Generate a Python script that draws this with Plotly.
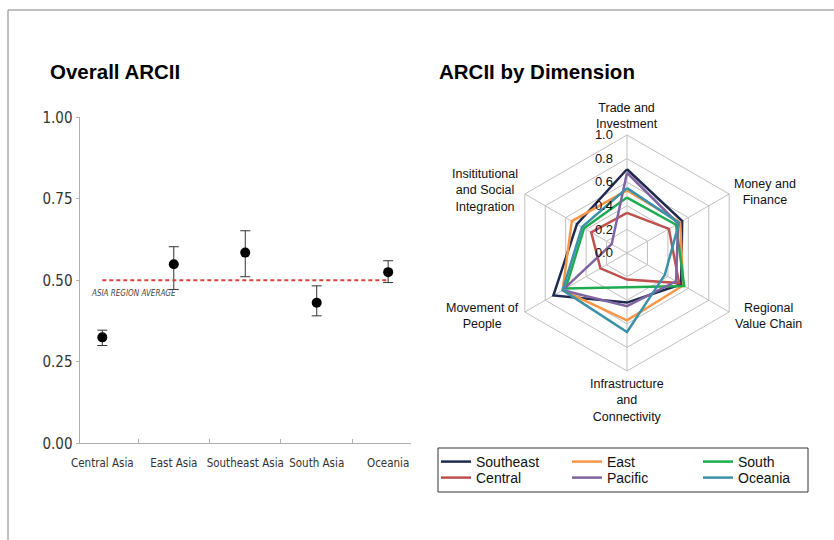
import plotly.graph_objects as go

W, H = 834, 540

# ---------------- Left chart data ----------------
regions = ["Central Asia", "East Asia", "Southeast Asia", "South Asia", "Oceania"]
arcii = [0.325, 0.549, 0.585, 0.431, 0.525]
err_plus = [0.022, 0.054, 0.067, 0.052, 0.035]
err_minus = [0.025, 0.077, 0.074, 0.040, 0.032]
asia_avg = 0.50
y_ticks = [0.0, 0.25, 0.5, 0.75, 1.0]
y_ticktext = ["0.00", "0.25", "0.50", "0.75", "1.00"]

# ---------------- Radar data ----------------
dimensions = ["Trade and Investment", "Money and Finance", "Regional Value Chain",
              "Infrastructure and Connectivity", "Movement of People",
              "Insititutional and Social Integration"]
dim_labels = ["Trade and<br>Investment", "Money and<br>Finance", "Regional<br>Value Chain",
              "Infrastructure<br>and<br>Connectivity", "Movement of<br>People",
              "Insititutional<br>and Social<br>Integration"]
series_names = ["Southeast", "East", "South", "Central", "Pacific", "Oceania"]
southeast = [0.71, 0.54, 0.53, 0.42, 0.72, 0.49]
east = [0.53, 0.52, 0.55, 0.57, 0.63, 0.54]
south = [0.47, 0.48, 0.56, 0.29, 0.60, 0.42]
central = [0.34, 0.41, 0.51, 0.225, 0.26, 0.35]
pacific = [0.68, 0.50, 0.48, 0.45, 0.63, 0.15]
oceania = [0.55, 0.51, 0.37, 0.67, 0.63, 0.44]
series_values = [southeast, east, south, central, pacific, oceania]
series_colors = ["#1f2a4e", "#f79646", "#1eaa4e", "#c0504d", "#8064a2", "#3b92a8"]
series_legend = ["legend", "legend", "legend", "legend2", "legend2", "legend2"]
r_ticks = [0.0, 0.2, 0.4, 0.6, 0.8, 1.0]
r_ticktext = ["0.0", "0.2", "0.4", "0.6", "0.8", "1.0"]


def px(x):
    return x / W


def py(y):
    return 1 - y / H


fig = go.Figure()

# Left chart: points with error bars
fig.add_trace(go.Scatter(
    x=regions, y=arcii, mode="markers",
    marker=dict(color="black", size=10),
    error_y=dict(type="data", symmetric=False, array=err_plus, arrayminus=err_minus,
                 color="#333333", thickness=1, width=5),
    showlegend=False, xaxis="x", yaxis="y"))

# Asia region average line
fig.add_trace(go.Scatter(
    x=regions, y=[asia_avg] * len(regions), mode="lines",
    line=dict(color="#d9413e", width=2, dash="4px,3px"),
    showlegend=False, xaxis="x", yaxis="y"))

# Radar traces
for name, vals, col, lg in zip(series_names, series_values, series_colors, series_legend):
    fig.add_trace(go.Scatterpolar(
        r=vals + [vals[0]], theta=dimensions + [dimensions[0]],
        mode="lines", name=name, line=dict(color=col, width=2.5),
        subplot="polar", legend=lg))

narrow = "Liberation Sans Narrow, Arial Narrow, DejaVu Sans Condensed, Liberation Sans, Arial"

legend_common = dict(orientation="h", xanchor="left", yanchor="middle",
                     bgcolor="rgba(0,0,0,0)", borderwidth=0,
                     entrywidth=86, entrywidthmode="pixels",
                     font=dict(size=14, color="#111111"), itemwidth=30)

fig.update_layout(
    width=W, height=H,
    margin=dict(l=0, r=0, t=0, b=0, autoexpand=False),
    paper_bgcolor="white", plot_bgcolor="white",
    font=dict(family="Liberation Sans, Arial", color="#111111"),
    xaxis=dict(domain=[px(79.5), px(411)], type="category", automargin=False,
               showline=True, linecolor="#b0b0b0", linewidth=1,
               ticks="inside", tickson="boundaries", ticklen=4, tickcolor="#b0b0b0",
               showgrid=False, zeroline=False, tickangle=0, ticklabelstandoff=9,
               tickfont=dict(family=narrow, size=11.5, color="#333333"),
               anchor="y"),
    yaxis=dict(domain=[py(443.3), py(117.3)], range=[0, 1], automargin=False,
               tickvals=y_ticks, ticktext=y_ticktext,
               showline=True, linecolor="#b0b0b0", linewidth=1,
               ticks="outside", ticklen=3, tickcolor="#b0b0b0",
               showgrid=False, zeroline=False,
               tickfont=dict(family=narrow, size=15, color="#333333"),
               anchor="x"),
    polar=dict(
        domain=dict(x=[px(509), px(745)], y=[py(371), py(135)]),
        gridshape="linear", bgcolor="white",
        angularaxis=dict(direction="clockwise", rotation=90,
                         showticklabels=False, ticks="",
                         showline=True, linecolor="#bfbfbf", linewidth=1,
                         gridcolor="#bfbfbf", gridwidth=1),
        radialaxis=dict(range=[0, 1], tickvals=r_ticks, ticktext=r_ticktext,
                        angle=90, tickangle=90, side="counterclockwise",
                        showline=False, ticks="outside", ticklen=9,
                        tickcolor="rgba(0,0,0,0)",
                        gridcolor="#bfbfbf", gridwidth=1,
                        tickfont=dict(size=13, color="#111111")),
    ),
    legend=dict(x=px(436), y=py(462), **legend_common),
    legend2=dict(x=px(436), y=py(478), **legend_common),
)

annotations = [
    dict(text="<b>Overall ARCII</b>", x=px(48), y=py(72), xref="paper", yref="paper",
         xanchor="left", yanchor="middle", showarrow=False,
         font=dict(size=20.5, color="#000000")),
    dict(text="<b>ARCII by Dimension</b>", x=px(437), y=py(72), xref="paper", yref="paper",
         xanchor="left", yanchor="middle", showarrow=False,
         font=dict(size=20.5, color="#000000")),
    dict(text="<i>ASIA REGION AVERAGE</i>", x=px(89), y=py(293), xref="paper", yref="paper",
         xanchor="left", yanchor="middle", showarrow=False,
         font=dict(family=narrow, size=8, color="#444444")),
]
label_pos = [(627, 116), (765, 192), (768, 316), (627, 400), (483, 316), (485, 191)]
for lab, (lx, ly) in zip(dim_labels, label_pos):
    annotations.append(dict(text=lab, x=px(lx), y=py(ly), xref="paper", yref="paper",
                            xanchor="center", yanchor="middle", showarrow=False,
                            font=dict(size=12.5, color="#111111")))
fig.update_layout(annotations=annotations)

fig.update_layout(shapes=[
    dict(type="line", xref="paper", yref="paper", x0=px(8), x1=1, y0=py(10), y1=py(10),
         line=dict(color="#808080", width=1)),
    dict(type="line", xref="paper", yref="paper", x0=px(8), x1=px(8), y0=0, y1=py(10),
         line=dict(color="#808080", width=1)),
    dict(type="rect", xref="paper", yref="paper", x0=px(438), x1=px(808), y0=py(492), y1=py(448),
         line=dict(color="#333333", width=1), fillcolor="rgba(0,0,0,0)", layer="below"),
])

fig.write_html("out.html", config={"responsive": False, "displayModeBar": False},
               post_script="document.body.style.margin='0px';")
